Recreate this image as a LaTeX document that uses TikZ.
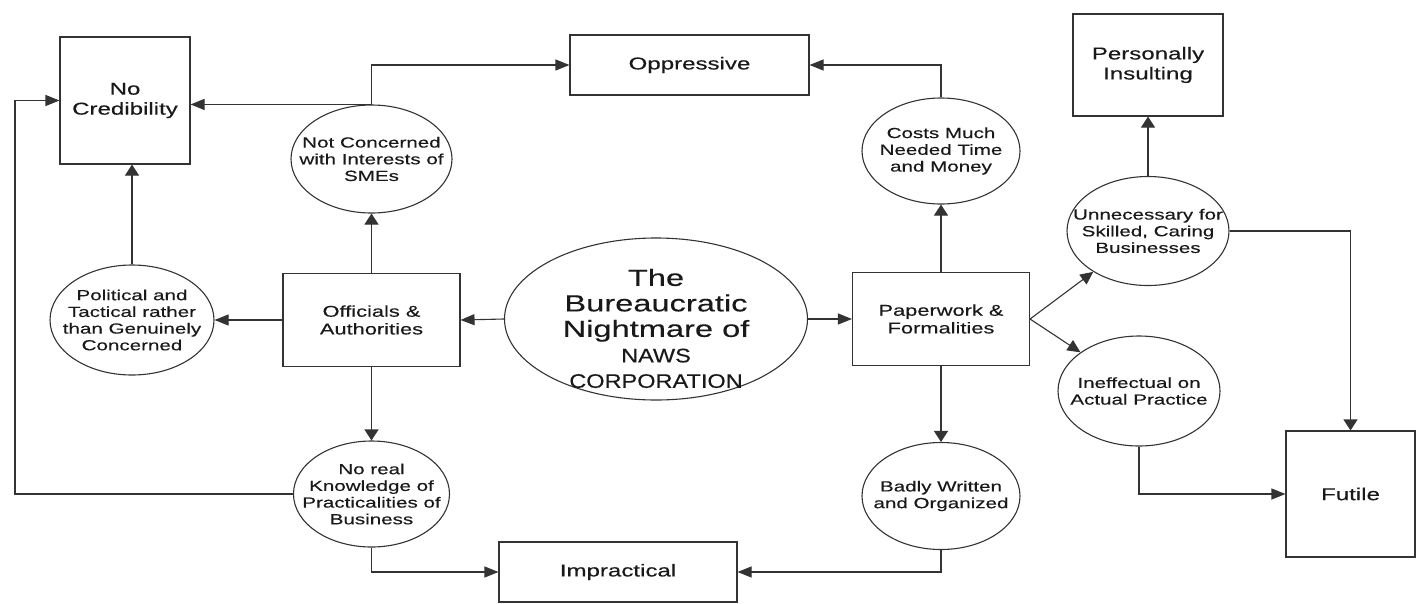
\documentclass[tikz,border=0pt]{standalone}
\usepackage{fontspec}
\setmainfont{Liberation Sans}[FakeStretch=1.4,FakeBold=0.3]
\newfontfamily\corpfont{Liberation Sans}[FakeStretch=1.2,FakeBold=0.3]
\usetikzlibrary{shapes.geometric,arrows.meta}
\newcommand{\corpname}[1]{{\corpfont\fontsize{19.6}{25}\selectfont #1}}

\begin{document}
\begin{tikzpicture}[x=1pt,y=-1pt,line width=1.1pt,color=black!80,
    dims/.style 2 args={minimum width=#1pt, minimum height=#2pt},
    outcome/.style={draw, rectangle, inner sep=0pt, align=center, text=black!90, font=\fontsize{17.2}{20}\selectfont},
    actor/.style={draw, rectangle, inner sep=0pt, align=center, text=black!90, font=\fontsize{15.6}{17.7}\selectfont, dims={177}{93}},
    oval/.style={draw, ellipse, inner sep=0pt},
    ovaltext/.style={align=center, inner sep=0pt, text=black!90, font=\fontsize{14.7}{16.7}\selectfont},
    hflow/.style={-{Triangle[length=14pt,width=11pt]}},
    vflow/.style={-{Triangle[length=11pt,width=14pt]}},
    dflow/.style={-{Triangle[length=13pt,width=12pt]}}]
    \useasboundingbox (0,0) rectangle (1421,603);

    % outcomes
    \node[outcome, dims={130}{127}] (noCred) at (125,100.5) {No\\Credibility};
    \node[outcome, dims={239}{60}] (oppressive) at (689.5,65) {Oppressive};
    \node[outcome, dims={150}{102}] (insulting) at (1148,65) {Personally\\Insulting};
    \node[outcome, dims={238}{60}] (impractical) at (618,572) {Impractical};
    \node[outcome, dims={129}{126}] (futile) at (1350.5,494) {Futile};

    % the two sources
    \node[actor] (officials) at (371.5,320) {Officials \&\\Authorities};
    \node[actor] (paperwork) at (941,319) {Paperwork \&\\Formalities};

    % the centre
    \node[oval, dims={303}{162}] (nightmare) at (656,319) {};
    \node[inner sep=0pt, align=center, text=black!90, font=\fontsize{23.3}{25.5}\selectfont] (nightmareTxt) at (656,328.5)
        {The\\Bureaucratic\\Nightmare of\\\corpname{NAWS}\\\corpname{CORPORATION}};

    % reasons
    \node[oval, dims={161}{108}] (notConcerned) at (371.5,159) {};
    \node[ovaltext] (notConcernedTxt) at (notConcerned) {Not Concerned\\with Interests of\\SMEs};
    \node[oval, dims={164}{110}] (political) at (132,320) {};
    \node[ovaltext] (politicalTxt) at (political) {Political and\\Tactical rather\\than Genuinely\\Concerned};
    \node[oval, dims={156}{106}] (knowledge) at (371.5,494) {};
    \node[ovaltext] (knowledgeTxt) at (knowledge) {No real\\Knowledge of\\Practicalities of\\Business};
    \node[oval, dims={158}{106}] (costs) at (941,151) {};
    \node[ovaltext] (costsTxt) at (costs) {Costs Much\\Needed Time\\and Money};
    \node[oval, dims={158}{107}] (badly) at (941,496) {};
    \node[ovaltext] (badlyTxt) at (badly) {Badly Written\\and Organized};
    \node[oval, dims={162}{109}] (unnecessary) at (1148,231) {};
    \node[ovaltext] (unnecessaryTxt) at (unnecessary) {Unnecessary for\\Skilled, Caring\\Businesses};
    \node[oval, dims={162}{110}] (ineffectual) at (1139,391) {};
    \node[ovaltext] (ineffectualTxt) at (ineffectual) {Ineffectual on\\Actual Practice};

    \coordinate (leftRail) at (15,300);

    % officials side
    \draw[hflow] (nightmare.west) -- (officials.east);
    \draw[vflow] (officials.north) -- (notConcerned.south);
    \draw[hflow] (officials.west) -- (political.east);
    \draw[vflow] (officials.south) -- (knowledge.north);
    \draw[vflow] (political.north) -- (political.north |- noCred.south);
    \draw[hflow] (notConcerned.north) -- (notConcerned.north -| noCred.east);
    \draw[hflow] (notConcerned.north) |- (oppressive.west);
    \draw[hflow] (knowledge.west) -- (knowledge.west -| leftRail) |- (noCred.west);
    \draw[hflow] (knowledge.south) |- (impractical.west);

    % paperwork side
    \draw[hflow] (nightmare.east) -- (paperwork.west);
    \draw[vflow] (paperwork.north) -- (costs.south);
    \draw[vflow] (paperwork.south) -- (badly.north);
    \draw[hflow] (costs.north) |- (oppressive.east);
    \draw[hflow] (badly.south) |- (impractical.east);
    \draw[dflow] (paperwork.east) -- (unnecessary);
    \draw[dflow] (paperwork.east) -- (ineffectual);
    \draw[vflow] (unnecessary.north) -- (insulting.south);
    \draw[vflow] (unnecessary.east) -| (futile.north);
    \draw[hflow] (ineffectual.south) |- (futile.west);
\end{tikzpicture}
\end{document}
